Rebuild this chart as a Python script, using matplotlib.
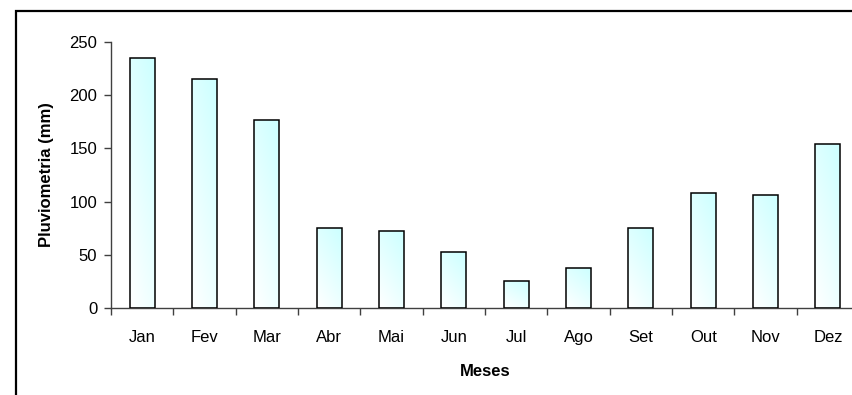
import numpy as np
from matplotlib import pyplot as plt
from matplotlib.patches import Rectangle
from matplotlib.colors import LinearSegmentedColormap

plt.rcParams['font.family'] = ['Liberation Sans', 'DejaVu Sans']

meses = ['Jan', 'Fev', 'Mar', 'Abr', 'Mai', 'Jun',
         'Jul', 'Ago', 'Set', 'Out', 'Nov', 'Dez']
chuva = [235, 215, 177, 75, 72.5, 52.5, 26, 38, 75, 108, 106.5, 154]
yticks = [0, 50, 100, 150, 200, 250]

fig = plt.figure(figsize=(8.52, 3.95), dpi=100)
ax = fig.add_axes([0.1303, 0.2195, 0.878, 0.675])

# moldura do grafico (passa das bordas direita e inferior)
fig.patches.append(Rectangle((16 / 852, -0.2), 1.2, 1.2 - 11 / 395,
                             transform=fig.transFigure, fill=False,
                             edgecolor='black', linewidth=1.6))

x = np.arange(len(meses))
bars = ax.bar(x, chuva, width=0.4, facecolor='none', edgecolor='black',
              linewidth=1.1, zorder=3)

# preenchimento em degrade diagonal: branco embaixo/esquerda, ciano em cima/direita
cmap = LinearSegmentedColormap.from_list('agua', ['#ffffff', '#ccffff'])
u, v = np.meshgrid(np.linspace(0, 1, 64), np.linspace(0, 1, 64))
grad = 0.35 * u + 0.65 * v
for b in bars:
    x0, y0 = b.get_x(), b.get_y()
    w, h = b.get_width(), b.get_height()
    im = ax.imshow(grad, cmap=cmap, origin='lower', aspect='auto',
                   extent=(x0, x0 + w, y0, y0 + h), zorder=2,
                   interpolation='bilinear')
    im.set_clip_path(b)

ax.set_xlim(-0.5, len(meses) - 0.5)
ax.set_ylim(0, 250)

ax.set_yticks(yticks)
ax.set_xticks(x)
ax.set_xticklabels(meses)
ax.set_xticks(np.arange(len(meses) + 1) - 0.5, minor=True)
ax.tick_params(axis='x', which='major', length=0, pad=15.5, labelsize=12)
ax.tick_params(axis='x', which='minor', length=5, width=1, color='#404040',
               direction='out')
ax.tick_params(axis='y', length=5, width=1, color='#404040', direction='out',
               pad=5, labelsize=12)

for s in ['top', 'right']:
    ax.spines[s].set_visible(False)
for s in ['left', 'bottom']:
    ax.spines[s].set_color('#404040')
    ax.spines[s].set_linewidth(1)

ax.set_xlabel('Meses', fontsize=12, fontweight='bold', labelpad=13.5)
ax.set_ylabel('Pluviometria (mm)', fontsize=12, fontweight='bold', labelpad=11)

fig.savefig('out.png', dpi=100)
